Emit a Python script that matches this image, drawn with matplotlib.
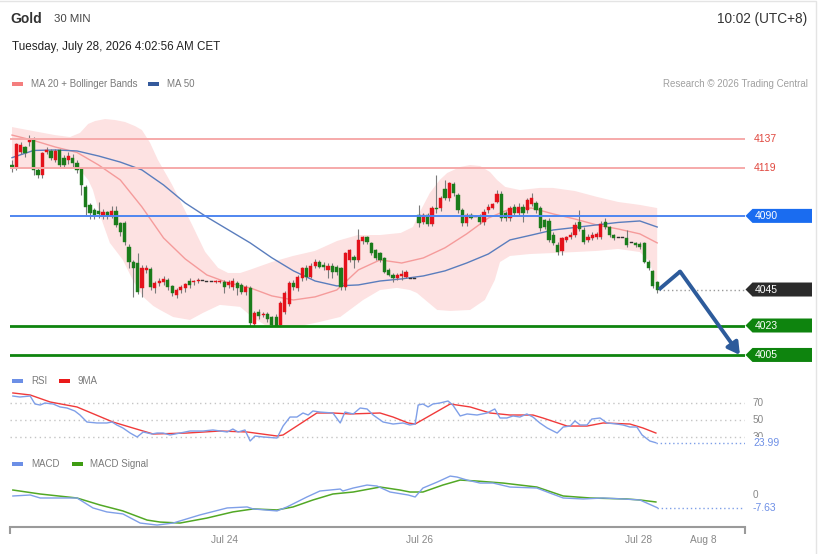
import matplotlib
matplotlib.use('Agg')
import matplotlib.pyplot as plt
from matplotlib.patches import Polygon, Rectangle
import numpy as np

plt.rcParams['font.family'] = ['Liberation Sans', 'DejaVu Sans']

# ---------------- data (30-min candles, Gold) ----------------
opens = [4121.1, 4119.7, 4129.2, 4132.3, 4135.0, 4136.4, 4118.0, 4115.0, 4129.2, 4129.7,
         4124.2, 4130.3, 4125.2, 4124.2, 4125.2, 4122.2, 4119.0, 4107.9, 4096.7, 4093.6,
         4093.0, 4090.6, 4092.2, 4090.2, 4093.0, 4085.5, 4085.5, 4071.2, 4062.0, 4061.0,
         4045.8, 4057.0, 4057.6, 4046.1, 4048.8, 4049.8, 4050.8, 4047.4, 4041.7, 4044.7,
         4046.1, 4050.2, 4049.4, 4050.2, 4050.2, 4049.8, 4049.8, 4049.4, 4049.4, 4049.8,
         4047.8, 4046.8, 4048.8, 4047.8, 4043.7, 4045.8, 4024.0, 4031.5, 4029.5, 4030.0,
         4028.4, 4028.4, 4023.4, 4031.5, 4036.2, 4049.2, 4045.8, 4051.9, 4058.0, 4052.9,
         4059.4, 4062.0, 4060.0, 4057.0, 4059.4, 4058.6, 4058.0, 4046.8, 4063.1, 4065.1,
         4063.1, 4074.9, 4077.0, 4073.3, 4069.2, 4067.2, 4064.1, 4057.0, 4053.9, 4051.9,
         4053.4, 4052.9, 4051.3, 4051.3, 4090.6, 4086.5, 4090.6, 4084.9, 4095.0, 4095.0,
         4106.4, 4100.8, 4109.3, 4102.8, 4093.6, 4085.5, 4090.6, 4089.5, 4089.5, 4086.5,
         4093.6, 4095.0, 4098.7, 4103.2, 4091.6, 4088.5, 4095.6, 4091.6, 4095.6, 4093.6,
         4097.1, 4097.7, 4094.6, 4087.5, 4086.9, 4078.3, 4072.2, 4068.6, 4075.3, 4077.3,
         4078.3, 4086.1, 4081.4, 4075.3, 4076.3, 4077.3, 4077.3, 4086.1, 4083.4, 4078.3,
         4076.6, 4076.6, 4076.6, 4073.3, 4073.3, 4072.8, 4073.3, 4062.0, 4056.3, 4049.4]
highs = [4124.2, 4134.6, 4135.0, 4133.0, 4139.5, 4138.0, 4119.0, 4129.0, 4132.0, 4131.0,
         4131.0, 4131.0, 4127.0, 4129.0, 4128.0, 4124.0, 4120.0, 4109.0, 4098.0, 4095.0,
         4098.3, 4094.0, 4093.0, 4096.0, 4096.0, 4086.0, 4087.0, 4073.0, 4063.0, 4067.3,
         4060.0, 4060.0, 4059.0, 4050.0, 4052.0, 4053.0, 4052.0, 4048.0, 4046.0, 4048.0,
         4049.0, 4052.0, 4051.0, 4052.0, 4050.2, 4049.8, 4049.8, 4051.0, 4051.0, 4051.0,
         4051.0, 4052.0, 4050.0, 4049.0, 4048.0, 4047.0, 4032.0, 4033.0, 4031.0, 4031.0,
         4029.0, 4030.0, 4038.0, 4044.0, 4050.0, 4051.0, 4054.0, 4059.0, 4060.0, 4061.0,
         4063.5, 4063.0, 4062.0, 4061.0, 4061.0, 4060.0, 4059.0, 4068.0, 4070.0, 4066.0,
         4081.8, 4078.0, 4078.0, 4074.0, 4070.0, 4068.0, 4065.0, 4058.0, 4055.0, 4055.0,
         4057.0, 4057.0, 4051.3, 4051.3, 4096.7, 4092.0, 4092.0, 4096.0, 4115.0, 4102.0,
         4112.0, 4111.0, 4111.0, 4104.0, 4095.0, 4092.0, 4092.0, 4089.5, 4091.0, 4094.0,
         4097.0, 4098.0, 4106.0, 4105.0, 4093.0, 4096.0, 4097.0, 4098.0, 4097.0, 4101.0,
         4104.0, 4099.0, 4096.0, 4088.0, 4088.7, 4080.0, 4074.0, 4077.0, 4078.0, 4080.0,
         4086.0, 4093.6, 4083.0, 4079.0, 4080.0, 4080.0, 4087.0, 4088.5, 4084.0, 4079.0,
         4076.6, 4076.6, 4081.4, 4073.3, 4074.0, 4074.0, 4074.0, 4063.0, 4057.0, 4050.0]
lows = [4116.8, 4118.0, 4128.0, 4126.2, 4133.0, 4115.0, 4113.2, 4113.0, 4128.0, 4124.0,
        4123.0, 4120.0, 4119.0, 4122.0, 4120.0, 4116.0, 4102.8, 4090.6, 4088.0, 4088.0,
        4089.0, 4088.0, 4088.0, 4089.0, 4083.0, 4078.0, 4072.0, 4058.0, 4040.6, 4042.0,
        4040.6, 4055.0, 4045.0, 4042.7, 4047.0, 4048.0, 4045.0, 4041.0, 4040.0, 4043.0,
        4043.7, 4046.0, 4048.0, 4049.0, 4050.2, 4049.8, 4049.8, 4049.0, 4049.0, 4042.7,
        4046.0, 4045.0, 4041.7, 4042.0, 4041.7, 4023.0, 4023.0, 4027.0, 4028.0, 4025.0,
        4022.5, 4022.5, 4022.5, 4030.0, 4035.0, 4045.0, 4044.0, 4050.0, 4051.0, 4052.0,
        4058.0, 4058.0, 4057.0, 4052.0, 4052.0, 4054.0, 4045.0, 4045.0, 4062.0, 4058.0,
        4062.0, 4073.0, 4073.0, 4066.0, 4063.0, 4062.0, 4055.0, 4053.0, 4049.8, 4051.0,
        4051.0, 4052.0, 4051.3, 4051.3, 4083.4, 4085.0, 4084.0, 4084.0, 4092.0, 4093.0,
        4100.0, 4099.0, 4102.0, 4092.0, 4084.0, 4084.0, 4088.0, 4089.5, 4085.0, 4084.5,
        4092.0, 4094.0, 4098.0, 4087.0, 4087.0, 4087.0, 4090.0, 4090.0, 4086.0, 4092.0,
        4096.0, 4092.0, 4081.0, 4082.0, 4074.0, 4072.0, 4066.0, 4066.1, 4074.0, 4076.0,
        4077.0, 4081.0, 4073.0, 4074.0, 4075.0, 4076.0, 4076.0, 4082.0, 4077.0, 4075.0,
        4076.6, 4076.6, 4071.0, 4073.3, 4071.0, 4070.0, 4061.0, 4057.0, 4046.0, 4043.0]
closes = [4119.9, 4133.8, 4133.3, 4128.3, 4136.5, 4118.0, 4115.0, 4128.3, 4130.3, 4125.2,
          4129.7, 4121.1, 4121.1, 4126.8, 4122.2, 4118.0, 4108.9, 4095.6, 4091.6, 4090.6,
          4091.0, 4092.6, 4090.2, 4093.0, 4084.5, 4080.4, 4074.3, 4062.0, 4058.0, 4043.7,
          4058.0, 4058.0, 4046.8, 4048.8, 4050.2, 4051.3, 4046.8, 4042.7, 4044.7, 4046.8,
          4048.2, 4047.8, 4050.2, 4050.8, 4050.2, 4049.8, 4049.8, 4050.2, 4050.2, 4046.8,
          4049.8, 4050.2, 4045.8, 4043.7, 4046.8, 4024.4, 4030.5, 4028.9, 4030.0, 4026.8,
          4023.4, 4022.8, 4036.6, 4042.7, 4049.2, 4046.8, 4052.9, 4058.0, 4052.9, 4059.4,
          4062.0, 4059.0, 4058.6, 4059.4, 4055.9, 4055.9, 4046.8, 4067.5, 4069.2, 4063.1,
          4075.3, 4077.0, 4074.3, 4067.2, 4064.1, 4063.1, 4055.9, 4053.9, 4051.9, 4053.9,
          4054.4, 4055.9, 4051.3, 4051.3, 4085.5, 4090.6, 4084.9, 4095.0, 4094.0, 4100.8,
          4100.8, 4109.9, 4103.9, 4093.6, 4085.5, 4090.6, 4089.0, 4089.5, 4086.5, 4092.6,
          4095.6, 4097.1, 4103.2, 4088.5, 4088.5, 4095.0, 4091.6, 4095.6, 4091.6, 4099.7,
          4100.8, 4093.6, 4082.4, 4083.4, 4075.3, 4073.3, 4068.1, 4076.3, 4077.3, 4078.3,
          4084.5, 4082.0, 4074.3, 4077.3, 4078.3, 4078.8, 4084.9, 4083.4, 4078.3, 4076.3,
          4076.6, 4076.6, 4072.2, 4073.3, 4072.2, 4071.2, 4062.0, 4058.0, 4047.4, 4044.7]

# moving averages (every 5 candles)
ma_idx = [0, 5, 10, 15, 20, 25, 30, 35, 40, 45, 50, 55, 60, 65, 70, 75, 80, 85, 90, 95,
          100, 105, 110, 115, 120, 125, 130, 135, 140, 145, 149]
ma20 = [4139.4, 4136.1, 4132.1, 4128.8, 4121.1, 4112.0, 4095.5, 4076.5, 4063.7, 4053.9,
        4049.0, 4046.0, 4041.1, 4038.6, 4040.5, 4044.7, 4057.0, 4063.1, 4061.2, 4064.3,
        4070.5, 4079.0, 4088.7, 4094.2, 4094.8, 4091.2, 4088.1, 4084.5, 4082.0, 4079.0, 4073.5]
ma50 = [4125.6, 4130.0, 4130.3, 4129.7, 4126.6, 4122.9, 4118.1, 4108.9, 4097.9, 4089.3,
        4081.4, 4073.5, 4064.4, 4056.4, 4050.2, 4047.2, 4047.8, 4050.2, 4051.5, 4053.3,
        4056.4, 4061.2, 4066.7, 4075.3, 4078.3, 4081.4, 4082.9, 4084.5, 4086.0, 4086.9, 4083.2]

# Bollinger band edges
bb_up_idx = [0, 4.8, 9.9, 13.4, 15.7, 17.6, 19.2, 21.5, 23.8, 26.1, 28.4, 30.0, 31.9, 33.7,
             35.3, 37.0, 39.3, 41.6, 44.6, 47.6, 49.9, 52.7, 54.9, 60.0, 64.9, 70.0, 75.1,
             79.9, 85.0, 89.8, 92.6, 94.2, 96.5, 98.8, 100.5, 103.5, 105.8, 108.1, 110.4,
             112.0, 113.9, 117.3, 121.9, 124.9, 130.0, 135.1, 140.0, 145.0, 149.0]
bb_up = [4144.3, 4141.9, 4139.4, 4138.2, 4140.7, 4146.2, 4148.0, 4149.2, 4148.6, 4147.4,
         4144.9, 4142.5, 4134.6, 4124.2, 4116.8, 4108.9, 4096.7, 4084.5, 4068.0, 4058.2,
         4055.1, 4055.1, 4057.0, 4061.8, 4065.5, 4068.6, 4074.7, 4078.3, 4078.3, 4079.6,
         4083.2, 4092.4, 4104.0, 4112.0, 4116.2, 4119.9, 4121.1, 4120.5, 4116.8, 4112.0,
         4107.7, 4105.8, 4107.1, 4107.1, 4105.2, 4101.6, 4098.5, 4096.7, 4094.8]
bb_lo_idx = [0, 4.8, 9.9, 13.4, 15.7, 17.6, 18.7, 20.3, 22.6, 25.6, 27.9, 30.3, 32.6, 34.2,
             37.2, 41.1, 44.1, 48.0, 52.7, 55.7, 58.4, 61.9, 66.5, 71.1, 75.8, 81.1, 85.0,
             88.9, 91.9, 93.5, 98.2, 101.2, 105.8, 109.2, 111.5, 112.7, 115.0, 119.6, 124.9,
             130.0, 135.1, 140.0, 145.0, 147.3, 149.0]
bb_lo = [4119.9, 4119.3, 4119.3, 4119.3, 4118.1, 4112.0, 4105.8, 4090.6, 4073.5, 4063.1,
         4050.8, 4040.5, 4035.0, 4032.5, 4028.2, 4026.4, 4030.7, 4035.6, 4034.4, 4027.6,
         4023.4, 4022.1, 4022.7, 4025.2, 4028.2, 4038.6, 4044.7, 4046.0, 4044.7, 4042.9,
         4032.5, 4031.9, 4032.5, 4038.6, 4050.8, 4061.8, 4065.5, 4066.7, 4067.3, 4067.9,
         4068.6, 4069.8, 4067.9, 4061.8, 4046.0]

# RSI and its 9-period MA
rsi_idx = [0.2, 1.8, 4.2, 5.3, 6.5, 7.6, 9.5, 11.1, 12.7, 14.5, 15.7, 17.3, 19.6, 21.9, 23.1,
           24.2, 25.6, 27.3, 28.9, 30.3, 32.3, 33.5, 34.9, 36.5, 38.8, 41.1, 44.1, 46.4, 49.7,
           51.0, 52.2, 53.8, 55.0, 56.1, 58.0, 61.2, 62.6, 64.2, 65.8, 67.2, 68.4, 69.5, 71.1,
           74.1, 75.8, 76.9, 78.8, 80.4, 82.0, 83.4, 85.7, 88.0, 90.3, 91.9, 93.1, 93.8, 94.9,
           96.1, 97.2, 98.8, 100.7, 101.8, 103.5, 105.1, 107.4, 109.7, 111.5, 112.7, 114.3,
           115.7, 117.3, 118.9, 120.3, 121.9, 123.6, 125.9, 127.3, 128.9, 130.0, 131.2, 132.8,
           133.9, 135.8, 137.4, 139.7, 141.1, 142.7, 144.3, 145.5, 147.3, 148.7]
rsi_val = [77.4, 76.3, 77.4, 68.3, 67.1, 69.4, 68.3, 64.9, 63.7, 60.3, 55.7, 47.7, 46.6, 46.6,
           47.7, 44.3, 40.9, 35.1, 30.6, 36.3, 34.0, 35.1, 35.1, 32.9, 35.1, 37.4, 37.4, 38.6,
           36.3, 39.7, 36.3, 38.6, 26.0, 31.7, 30.6, 29.4, 43.1, 53.4, 53.4, 58.0, 55.7, 60.3,
           59.1, 58.0, 46.6, 59.1, 56.9, 63.7, 62.6, 55.7, 47.7, 45.4, 46.6, 44.3, 45.4, 67.1,
           68.3, 64.9, 68.3, 69.4, 71.7, 67.1, 54.6, 56.9, 55.7, 58.0, 62.6, 52.3, 52.3, 54.6,
           53.4, 56.9, 53.4, 46.6, 40.9, 35.1, 42.0, 43.1, 48.9, 44.3, 44.3, 51.1, 52.3, 46.6,
           45.4, 44.3, 42.0, 42.0, 32.9, 26.0, 23.99]
rsi_ma_idx = [0.2, 4.2, 8.8, 15.0, 23.3, 27.9, 32.6, 40.4, 48.0, 54.3, 61.2, 62.6, 70.4, 74.1,
              78.1, 85.0, 88.0, 91.5, 93.1, 101.2, 105.8, 110.4, 115.0, 120.3, 122.6, 128.2,
              132.8, 136.5, 142.7, 145.7, 148.7]
rsi_ma_val = [80.9, 78.6, 70.6, 64.9, 47.7, 40.9, 34.0, 35.1, 37.4, 36.3, 31.7, 32.9, 58.0, 58.0,
              56.9, 58.0, 53.4, 46.6, 45.4, 68.3, 64.9, 58.0, 55.7, 55.7, 52.3, 43.1, 43.1, 46.6,
              45.4, 40.9, 35.1]

# MACD and signal
macd_idx = [0.2, 4.2, 6.5, 15.0, 18.7, 21.9, 25.6, 29.6, 33.5, 37.2, 43.4, 49.7, 54.3, 55.7,
            61.2, 63.5, 68.1, 71.1, 75.8, 76.4, 78.8, 82.0, 84.3, 87.3, 91.5, 93.1, 94.9, 98.2,
            101.2, 102.8, 105.1, 108.1, 111.1, 115.0, 121.2, 124.2, 127.3, 131.9, 136.5, 141.1,
            145.0, 149.0]
macd_val = [-0.6, 0.0, -1.8, -1.8, -7.8, -10.2, -11.4, -16.9, -18.1, -16.9, -12.0, -7.8, -7.2,
            -8.4, -9.6, -7.2, -1.2, 2.4, 3.6, 2.4, 4.2, 6.0, 5.4, 1.8, 0.0, -1.2, 4.2, 7.8, 11.4,
            10.8, 9.0, 7.2, 7.2, 4.8, 4.2, 1.2, -1.8, -2.4, -1.8, -2.4, -3.0, -7.63]
sig_idx = [0.2, 6.5, 15.0, 20.3, 25.6, 31.2, 34.2, 38.8, 45.0, 51.0, 55.7, 61.2, 64.9, 69.5,
           74.1, 78.8, 85.0, 89.6, 91.9, 94.9, 99.5, 103.5, 107.4, 113.4, 121.2, 127.3, 133.5,
           142.0, 145.0, 148.7]
sig_val = [3.0, 0.6, -1.8, -6.0, -9.6, -15.1, -16.3, -16.9, -13.9, -10.2, -8.4, -9.0, -7.2, -3.0,
           0.6, 1.8, 4.8, 3.0, 1.8, 1.8, 6.0, 9.0, 8.4, 7.2, 4.8, -0.6, -1.8, -2.4, -3.0, -4.2]

resistance_levels = [4137, 4119]
pivot_level = 4090
support_levels = [4023, 4005]
last_price = 4045
rsi_last = 23.99
macd_last = -7.63
rsi_levels = [70, 50, 30]
date_ticks = [49.0, 94.0, 144.8, 159.6]
date_labels = ['Jul 24', 'Jul 26', 'Jul 28', 'Aug 8']
proj_x = [149.4, 154.3, 168.1]
proj_y = [4045, 4056, 4005]

# ---------------- styling ----------------
UP = '#e4121b'
DOWN = '#1b7c1b'
DOJI = '#333333'
BAND = '#fde2e2'
MA20_C = '#f59b9b'
MA50_C = '#5a7dbd'
RSI_C = '#7f9fe8'
RSIMA_C = '#f03a3a'
MACD_C = '#7f9fe8'
SIG_C = '#52a825'
GREEN_LVL = '#0e840e'
BLUE_LVL = '#4f86f0'
BLUE_TAG = '#1a6cf0'
RED_LVL = '#f6aaaa'
RED_TXT = '#e0473e'
ARROW_C = '#2d5b9b'
GRAY_TXT = '#888888'

W, H = 818, 554
fig = plt.figure(figsize=(W / 100, H / 100), dpi=100)
fig.patch.set_facecolor('white')


def px_axes(x0, y0, x1, y1):
    a = fig.add_axes([x0 / W, 1 - y1 / H, (x1 - x0) / W, (y1 - y0) / H])
    a.patch.set_visible(False)
    for s in a.spines.values():
        s.set_visible(False)
    a.set_xticks([])
    a.set_yticks([])
    return a


XL = (-0.462, 169.28)

# ---- main price panel ----
ax = px_axes(10, 100, 745, 365)
ax.set_xlim(XL)
ax.set_ylim(4137 - (365 - 139) / 1.636, 4137 - (100 - 139) / 1.636)

ax.fill(list(bb_up_idx) + list(bb_lo_idx[::-1]), list(bb_up) + list(bb_lo[::-1]),
        color=BAND, lw=0, zorder=1)
ax.plot(ma_idx, ma20, color=MA20_C, lw=1.0, zorder=2)
ax.plot(ma_idx, ma50, color=MA50_C, lw=1.0, zorder=2)

idx = np.arange(len(closes))
o = np.array(opens)
c = np.array(closes)
hi = np.array(highs)
lo = np.array(lows)
body_lo = np.minimum(o, c)
body_h = np.maximum(np.abs(c - o), 0.55)
cols = [UP if cc > oo + 0.2 else (DOWN if cc < oo - 0.2 else DOJI) for oo, cc in zip(o, c)]
ax.vlines(idx, lo, hi, colors='#7a7a7a', lw=0.8, zorder=3)
ax.bar(idx, body_h, bottom=body_lo, width=0.74, color=cols, edgecolor=cols, lw=0.3, zorder=4)

for lv in resistance_levels:
    ax.axhline(lv, color=RED_LVL, lw=1.4, zorder=5)
ax.axhline(pivot_level, color=BLUE_LVL, lw=1.4, zorder=5)
for lv in support_levels:
    ax.axhline(lv, color=GREEN_LVL, lw=2.0, zorder=5)
ax.hlines(last_price, proj_x[0], XL[1], colors='#9a9a9a', linestyles=(0, (1, 2)), lw=1.0, zorder=5)

ax.plot(proj_x[:2], proj_y[:2], color=ARROW_C, lw=2.8, solid_capstyle='butt', zorder=6)
ax.annotate('', xy=(proj_x[2], proj_y[2]), xytext=(proj_x[1], proj_y[1]),
            arrowprops=dict(arrowstyle='-|>,head_length=0.7,head_width=0.4', color=ARROW_C,
                            lw=2.8, shrinkA=0, shrinkB=0),
            zorder=6, annotation_clip=False)

# ---- RSI panel ----
ra = px_axes(10, 390, 745, 455)
ra.set_xlim(XL)
ra.set_ylim(70 - (455 - 402.5) * 1.1429, 70 + (402.5 - 390) * 1.1429)
for lv in rsi_levels:
    ra.axhline(lv, color='#c4c4c4', lw=1.0, ls=(0, (1, 2.5)), zorder=1)
ra.plot(rsi_idx, rsi_val, color=RSI_C, lw=1.0, zorder=3)
ra.plot(rsi_ma_idx, rsi_ma_val, color=RSIMA_C, lw=1.0, zorder=2)
ra.hlines(rsi_last, rsi_idx[-1], XL[1], colors=RSI_C, linestyles=(0, (1, 2)), lw=1.0)

# ---- MACD panel ----
ma_ax = px_axes(10, 470, 745, 527)
ma_ax.set_xlim(XL)
ma_ax.set_ylim((495 - 527) / 1.66, (495 - 470) / 1.66)
ma_ax.plot(macd_idx, macd_val, color=MACD_C, lw=1.0, zorder=3)
ma_ax.plot(sig_idx, sig_val, color=SIG_C, lw=1.1, zorder=2)
ma_ax.hlines(macd_last, macd_idx[-1], XL[1], colors=MACD_C, linestyles=(0, (1, 2)), lw=1.0)
ma_ax.spines['bottom'].set_visible(True)
ma_ax.spines['bottom'].set_color('#9a9a9a')
ma_ax.spines['bottom'].set_linewidth(1.5)
ma_ax.set_xticks(date_ticks, date_labels)
ma_ax.set_xticks(list(XL), minor=True)
ma_ax.tick_params(axis='x', which='major', length=0, pad=6, labelsize=7.3, labelcolor=GRAY_TXT)
ma_ax.tick_params(axis='x', which='minor', length=5, width=1.5, color='#9a9a9a')

# ---- overlay (pixel coordinates) ----
ov = fig.add_axes([0, 0, 1, 1], zorder=10)
ov.set_xlim(0, W)
ov.set_ylim(H, 0)
ov.axis('off')


def pix_y(a, v):
    return H - a.transData.transform((0, v))[1]


# border
ov.plot([0, 815.5, 815.5], [1.2, 1.2, H + 5], color='#e4e4e4', lw=1.0)

# header
ov.text(10, 19, 'Gold', fontsize=10, fontweight='bold', color='#333333', va='center')
ov.text(54, 19, '30 MIN', fontsize=8.2, color='#444444', va='center')
ov.text(12, 47, 'Tuesday, July 28, 2026 4:02:56 AM CET', fontsize=8.4, color='#222222', va='center')
ov.text(807, 19, '10:02 (UTC+8)', fontsize=9.8, color='#333333', va='center', ha='right')
ov.text(808, 84, 'Research \u00a9 2026 Trading Central', fontsize=7, color='#a0a0a0', va='center', ha='right')


def legend_item(x, y, color, label, tx):
    ov.add_patch(Rectangle((x, y - 2), 11, 4, fc=color, ec='none'))
    ov.text(tx, y, label, fontsize=7, color='#7a7a7a', va='center')


legend_item(12, 84, '#f47e7e', 'MA 20 + Bollinger Bands', 31)
legend_item(148, 84, '#355a9c', 'MA 50', 167)
legend_item(12, 381, '#6c8fe6', 'RSI', 31)
legend_item(59, 381, '#ea1a1a', '9MA', 78)
legend_item(12, 464, '#6c8fe6', 'MACD', 31)
legend_item(72, 464, '#3e9c12', 'MACD Signal', 90)


def tag(yc, text, color):
    ov.add_patch(Polygon([(745.5, yc), (752.5, yc - 7), (812, yc - 7), (812, yc + 7), (752.5, yc + 7)],
                         closed=True, fc=color, ec='none'))
    ov.text(755, yc + 0.5, text, color='white', fontsize=7.5, va='center', ha='left')


for lv in resistance_levels:
    ov.text(754, pix_y(ax, lv), str(lv), color=RED_TXT, fontsize=7.5, va='center')
tag(pix_y(ax, pivot_level), str(pivot_level), BLUE_TAG)
tag(pix_y(ax, last_price), str(last_price), '#2b2b2b')
for lv in support_levels:
    tag(pix_y(ax, lv), str(lv), GREEN_LVL)

# RSI labels (the last value sits over the "30" level label, as in the source)
for lv in rsi_levels:
    ov.text(753, pix_y(ra, lv), str(lv), color=GRAY_TXT, fontsize=7.2, va='center')
ov.text(753, pix_y(ra, rsi_last) + 0.5, f'{rsi_last:.2f}', color='#6d8fe6', fontsize=7.5, va='center',
        bbox=dict(fc='white', ec='none', pad=0.6))

ov.text(753, pix_y(ma_ax, 0), '0', color=GRAY_TXT, fontsize=7.2, va='center')
ov.text(753, pix_y(ma_ax, macd_last), f'{macd_last:.2f}', color='#6d8fe6', fontsize=7.5, va='center')

fig.savefig('out.png', dpi=100)
